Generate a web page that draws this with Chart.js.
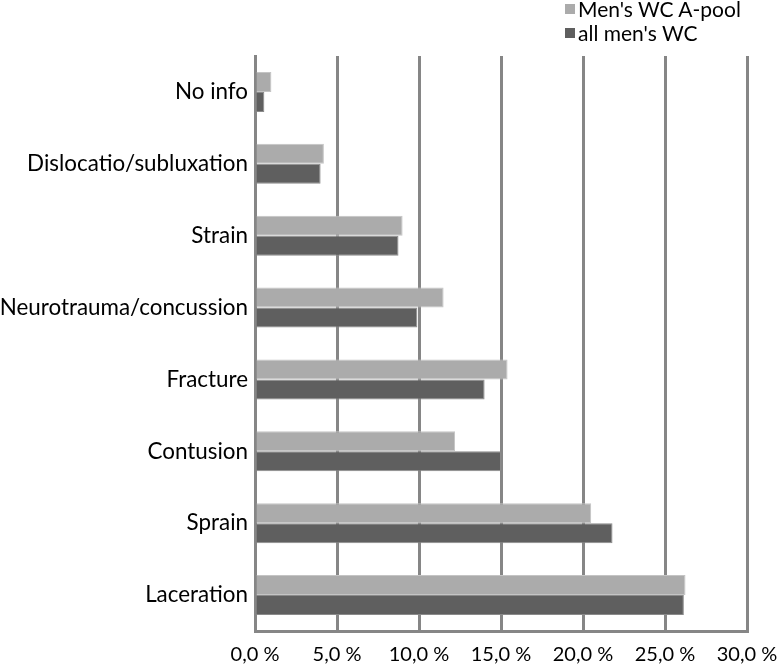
<!DOCTYPE html>
<html><head><meta charset="utf-8">
<script src="https://cdn.jsdelivr.net/npm/chart.js@4/dist/chart.umd.min.js"></script>
<style>
html,body{margin:0;padding:0;background:#fff;}
#wrap{position:relative;width:780px;height:668px;}
#legend{position:absolute;left:565px;top:-3px;font-family:Lato,"Open Sans",sans-serif;font-size:21px;color:#000;line-height:24px;}
#legend .it{display:flex;align-items:center;white-space:nowrap;}
#legend .sw{width:10px;height:10px;margin-right:3px;}
</style></head>
<body><div id="wrap"><canvas id="c" width="780" height="668"></canvas>
<div id="legend"></div></div>
<script>
const categories = ["No info","Dislocatio/subluxation","Strain","Neurotrauma/concussion","Fracture","Contusion","Sprain","Laceration"];
const seriesNames = ["Men's WC A-pool","all men's WC"];
const aPool = [1.0, 4.2, 9.0, 11.5, 15.4, 12.2, 20.5, 26.25];
const allMen = [0.57, 4.0, 8.75, 9.9, 14.0, 15.0, 21.8, 26.15];
const xTicks = [0,5,10,15,20,25,30];

const colors = ['#ababab','#5f5f5f'];
const font = "Lato";
const lg = document.getElementById('legend');
seriesNames.forEach((n,i)=>{
  const d=document.createElement('div');d.className='it';
  d.innerHTML='<span class="sw" style="background:'+colors[i]+'"></span><span>'+n+'</span>';
  lg.appendChild(d);
});

new Chart(document.getElementById('c'), {
  type:'bar',
  data:{labels:categories, datasets:[
    {label:seriesNames[0], data:aPool, backgroundColor:colors[0], borderColor:'#c4c4c4', borderWidth:1, barPercentage:1.0, categoryPercentage:0.556},
    {label:seriesNames[1], data:allMen, backgroundColor:colors[1], borderColor:'#8a8a8a', borderWidth:1, barPercentage:1.0, categoryPercentage:0.556}
  ]},
  options:{
    indexAxis:'y', responsive:false, animation:false,
    layout:{padding:{left:0,right:33,top:56,bottom:0}},
    plugins:{legend:{display:false}, tooltip:{enabled:false}},
    scales:{
      x:{min:0,max:30,
        afterBuildTicks:(s)=>{s.ticks=xTicks.map(v=>({value:v}));},
        afterFit:(s)=>{s.height=37;s.paddingLeft=0;s.paddingRight=0;},
        grid:{color:'#868686',lineWidth:3,drawTicks:false},
        border:{display:true,color:'#868686',width:3},
        ticks:{padding:12,color:'#000',font:{family:font,size:20},maxRotation:0,
          callback:(v)=>v.toFixed(1).replace('.',',')+' %'}
      },
      y:{
        afterFit:(s)=>{s.width=255;s.paddingTop=0;s.paddingBottom=0;},
        grid:{display:false,drawTicks:false},
        border:{display:true,color:'#868686',width:3},
        ticks:{padding:7,color:'#000',font:{family:font,size:22.4}}
      }
    }
  }
});
</script></body></html>
